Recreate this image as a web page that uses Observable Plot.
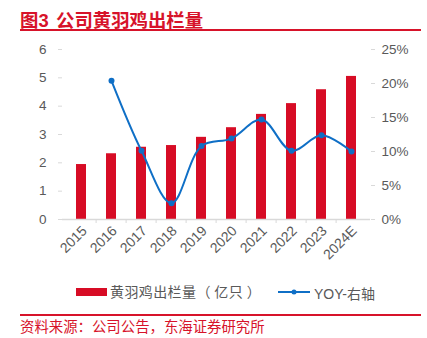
<!DOCTYPE html>
<html><head><meta charset="utf-8">
<script src="https://cdn.jsdelivr.net/npm/d3@7"></script>
<script src="https://cdn.jsdelivr.net/npm/@observablehq/plot@0.6"></script>
<style>
body{margin:0;background:#fff;}
#wrap{position:relative;width:427px;height:338px;overflow:hidden;background:#fff;font-family:"Liberation Sans","Noto Sans CJK SC",sans-serif;text-spacing-trim:space-all;}
#chart{position:absolute;left:0;top:0;}
.title{position:absolute;top:6px;font-size:18.4px;font-weight:bold;color:#d7132a;font-family:"Liberation Sans","Noto Sans CJK SC",sans-serif;white-space:nowrap;}
.hr{position:absolute;left:20px;width:401px;background:#d7132a;}
.src{position:absolute;left:20px;top:315px;font-size:14.4px;color:#d7132a;white-space:nowrap;font-family:"Noto Sans CJK SC",sans-serif;}
.leg{position:absolute;top:281px;font-size:14px;color:#595959;white-space:nowrap;}
.sw{position:absolute;}
</style></head><body>
<div id="wrap">
  <div id="chart"></div>
  <div class="title" style="left:20px;">图3</div>
  <div class="title" style="left:56px;">公司黄羽鸡出栏量</div>
  <div class="hr" style="top:29px;height:2px;"></div>
  <div class="sw" style="left:76px;top:288px;width:31px;height:8px;background:#d70c25;"></div>
  <div class="leg" style="left:110px;font-family:'Noto Sans CJK SC',sans-serif;letter-spacing:0.4px;">黄羽鸡出栏量（ 亿只 ）</div>
  <svg class="sw" style="left:276px;top:286px;" width="36" height="12"><line x1="2" y1="6" x2="34" y2="6" stroke="#0f6fc6" stroke-width="2"/><circle cx="18" cy="6" r="2.5" fill="#0f6fc6"/></svg>
  <div class="leg" style="left:314px;top:283px;">YOY-右轴</div>
  <div class="hr" style="top:314px;height:1.5px;"></div>
  <div class="src">资料来源：公司公告，东海证券研究所</div>
</div>
<script>
const years = ["2015","2016","2017","2018","2019","2020","2021","2022","2023","2024E"];
const output = [1.94, 2.32, 2.55, 2.61, 2.90, 3.24, 3.71, 4.09, 4.58, 5.05];
const yoy = [null, 20.4, 10.1, 2.4, 10.8, 11.9, 14.7, 10.1, 12.4, 10.0];
const leftTicks = [0, 1, 2, 3, 4, 5, 6];
const rightTicks = [0, 5, 10, 15, 20, 25];

const leftMax = 6, rightMax = 25;
const toLeft = v => v * leftMax / rightMax;

const bars = years.map((y, i) => ({year: y, value: output[i]}));
const line = years.map((y, i) => ({year: y, value: yoy[i]})).filter(d => d.value != null);

const W = 427, H = 338, mL = 62, mR = 57, mT = 49, mB = 119;
const step = (W - mL - mR) / years.length;
const grey = "#d9d9d9", txt = "#595959";

const plot = Plot.plot({
  width: W, height: H,
  marginLeft: mL, marginRight: mR, marginTop: mT, marginBottom: mB,
  style: {fontFamily: "Liberation Sans, Arial, sans-serif", fontSize: "13.5px", color: txt, background: "transparent"},
  x: {type: "band", domain: years, paddingInner: 0.68, paddingOuter: 0.34, label: null},
  y: {domain: [0, leftMax], label: null},
  marks: [
    Plot.barY(bars, {x: "year", y: "value", fill: "#d70c25"}),
    Plot.ruleY([0], {stroke: grey, strokeWidth: 1.5}),
    Plot.ruleX(years.slice(1), {x: d => d, y1: 0, y2: 0, insetBottom: -4, dx: -step / 2, stroke: grey}),
    Plot.axisY(leftTicks, {anchor: "left", tickSize: 4, tickPadding: 12, stroke: grey, fill: txt, line: true, label: null}),
    Plot.axisY(rightTicks.map(toLeft), {anchor: "right", tickSize: 4, tickPadding: 7, stroke: grey, fill: txt, line: true, label: null,
      tickFormat: d => Math.round(d * rightMax / leftMax) + "%"}),
    Plot.axisX({tickSize: 0, tickRotate: -45, tickPadding: 9, dx: 3, fill: txt, fontSize: 14, label: null}),
    Plot.line(line, {x: "year", y: d => toLeft(d.value), stroke: "#0f6fc6", strokeWidth: 2, curve: "catmull-rom"}),
    Plot.dot(line, {x: "year", y: d => toLeft(d.value), fill: "#0f6fc6", r: 3})
  ]
});
document.getElementById("chart").appendChild(plot);
</script>
</body></html>
